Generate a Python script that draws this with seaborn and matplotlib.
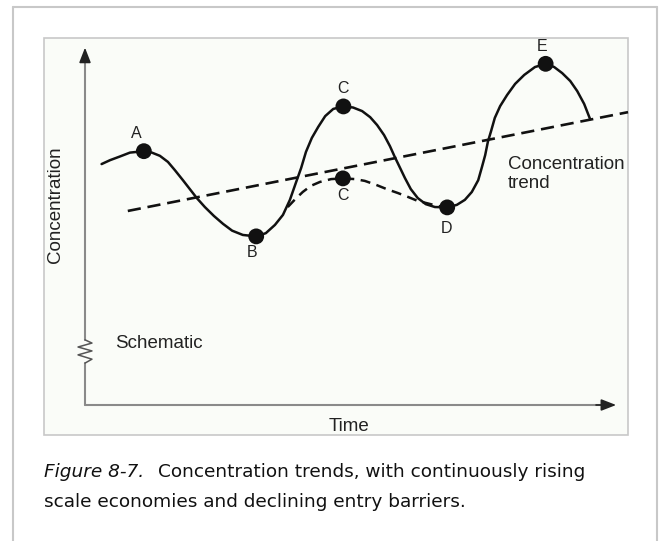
import matplotlib
matplotlib.use("Agg")
import matplotlib.pyplot as plt
import seaborn as sns
import pandas as pd
from matplotlib.patches import Rectangle
from matplotlib.lines import Line2D

# Valores (tempo 0-100, concentração 0-100, esquemático)
tempo_curva = [3.1, 4.7, 6.5, 8.4, 11.0, 12.5, 14.0, 15.5, 16.8, 18.3, 19.6,
               20.9, 22.4, 24.1, 25.8, 27.5, 29.5, 32.0, 33.8, 35.5, 37.0,
               38.3, 39.4, 40.4, 41.3, 42.4, 43.6, 44.9, 46.4, 48.3, 50.1,
               51.8, 53.3, 54.6, 55.9, 57.0, 57.9, 58.9, 59.8, 60.9, 62.2,
               63.7, 65.4, 67.7, 69.5, 71.0, 72.3, 73.5, 74.2, 74.8, 75.3,
               75.9, 76.6, 77.6, 78.9, 80.4, 82.1, 84.1, 86.1, 87.7, 89.2,
               90.7, 92.0, 93.3, 94.4]
conc_curva = [67.3, 68.4, 69.4, 70.5, 70.9, 70.5, 69.6, 67.9, 65.6, 62.8, 60.3,
              57.8, 55.3, 52.8, 50.6, 48.7, 47.5, 47.1, 48.0, 50.3, 53.1,
              57.3, 62.0, 66.2, 70.7, 74.6, 77.7, 80.7, 82.7, 83.4, 83.1,
              82.1, 80.4, 78.2, 75.4, 72.3, 69.3, 66.2, 63.4, 60.3, 57.8,
              56.1, 55.3, 55.2, 55.9, 57.3, 59.5, 62.8, 66.5, 69.8, 73.5,
              76.5, 80.2, 83.5, 86.6, 89.7, 92.2, 94.4, 95.3, 94.4, 92.7,
              90.5, 87.7, 84.1, 79.9]

# ramo tracejado alternativo (C inferior)
tempo_ramo = [37.9, 39.3, 40.7, 42.2, 43.9, 46.0, 48.2, 50.5, 52.3, 54.4,
              56.4, 58.5, 60.4, 62.2, 64.1, 65.9, 67.7]
conc_ramo = [55.3, 57.5, 59.5, 61.2, 62.3, 63.1, 63.3, 63.1, 62.6, 61.5,
             60.3, 59.2, 58.1, 57.0, 56.3, 55.6, 55.2]

# linha de tendência
tempo_tend = [8.0, 101.5]
conc_tend = [54.2, 81.8]

# pontos marcados
pontos = ["A", "B", "C", "C", "D", "E"]
tempo_pts = [11.0, 32.0, 48.3, 48.2, 67.7, 86.1]
conc_pts = [70.9, 47.1, 83.4, 63.3, 55.2, 95.3]
tempo_rot = [9.5, 31.2, 48.3, 48.3, 67.6, 85.5]
conc_rot = [75.7, 42.7, 88.5, 58.4, 49.4, 100.1]

df_curva = pd.DataFrame({"t": tempo_curva, "c": conc_curva})
df_ramo = pd.DataFrame({"t": tempo_ramo, "c": conc_ramo})
df_tend = pd.DataFrame({"t": tempo_tend, "c": conc_tend})
df_pts = pd.DataFrame({"t": tempo_pts, "c": conc_pts})

sns.set_style("white")
plt.rcParams["font.family"] = ["Liberation Sans", "DejaVu Sans"]
plt.rcParams["lines.solid_joinstyle"] = "round"
plt.rcParams["lines.dash_joinstyle"] = "round"

fig = plt.figure(figsize=(6.6, 5.41), dpi=100)
fig.patch.set_facecolor("white")

# moldura externa
cinza = "#c8c8c8"
fig.add_artist(Line2D([13/660, 13/660], [0, 1 - 7/541], transform=fig.transFigure, color=cinza, lw=1.5))
fig.add_artist(Line2D([657/660, 657/660], [0, 1 - 7/541], transform=fig.transFigure, color=cinza, lw=1.5))
fig.add_artist(Line2D([13/660, 657/660], [1 - 7/541, 1 - 7/541], transform=fig.transFigure, color=cinza, lw=1.5))

# caixa do gráfico
fig.add_artist(Rectangle((44/660, (541-435)/541), 584/660, 397/541, transform=fig.transFigure,
                         facecolor="#fafcf8", edgecolor=cinza, lw=1.2, zorder=0))

ax = fig.add_axes([85/660, (541-405)/541, 535/660, 358/541])
ax.set_xlim(0, 100)
ax.set_ylim(0, 100)
ax.axis("off")
ax.patch.set_alpha(0)

# eixos com setas
eixo = "#8a8a8a"
ax.plot([0, 0], [0, 11.7], color=eixo, lw=1.5, clip_on=False)
ax.plot([0, 0], [18.2, 97], color=eixo, lw=1.5, clip_on=False)
ax.plot([0, 1.3, -1.3, 1.3, -1.3, 1.3, 0],
        [18.2, 17.3, 16.2, 15.1, 14.0, 12.8, 11.7], color="#555555", lw=1.1, clip_on=False)
ax.plot([0, 97], [0, 0], color=eixo, lw=1.5, clip_on=False)
ax.annotate("", xy=(0, 100.6), xytext=(0, 95), xycoords="data",
            arrowprops=dict(arrowstyle="-|>,head_length=0.9,head_width=0.35", color="#222222", lw=1.2),
            annotation_clip=False)
ax.annotate("", xy=(99.8, 0), xytext=(95, 0), xycoords="data",
            arrowprops=dict(arrowstyle="-|>,head_length=0.9,head_width=0.35", color="#222222", lw=1.2),
            annotation_clip=False)

# curvas
sns.lineplot(data=df_tend, x="t", y="c", ax=ax, color="#111111", lw=1.9,
             estimator=None, sort=False)
ax.lines[-1].set_dashes([5, 2.6])
ax.lines[-1].set_clip_on(False)
sns.lineplot(data=df_ramo, x="t", y="c", ax=ax, color="#111111", lw=1.8,
             estimator=None, sort=False)
ax.lines[-1].set_dashes([4, 2.6])
sns.lineplot(data=df_curva, x="t", y="c", ax=ax, color="#111111", lw=1.8,
             estimator=None, sort=False)
sns.scatterplot(data=df_pts, x="t", y="c", ax=ax, color="#111111", s=130,
                edgecolor="none", zorder=5)

for nome, tx, cy in zip(pontos, tempo_rot, conc_rot):
    ax.text(tx, cy, nome, ha="center", va="center", fontsize=11.5, color="#222222", clip_on=False)

ax.text(79.1, 64.5, "Concentration\ntrend", ha="left", va="center", fontsize=13.5,
        color="#222222", linespacing=1.1)
ax.text(5.6, 17.3, "Schematic", ha="left", va="center", fontsize=13.5, color="#222222")
ax.text(-5.6, 55.9, "Concentration", ha="center", va="center", rotation=90,
        fontsize=13.5, color="#222222")
ax.text(49.3, -6.1, "Time", ha="center", va="center", fontsize=13.5, color="#222222")
ax.set_xlabel("")
ax.set_ylabel("")

# legenda da figura
fonte_leg = ["DejaVu Sans"]
t1 = fig.text(44/660, (541-471.7)/541, "Figure 8-7.", fontsize=13.3, style="italic",
              family=fonte_leg, color="#111111", va="center", ha="left")
r = fig.canvas.get_renderer()
bb = t1.get_window_extent(renderer=r)
fig.text((bb.x1 + 14) / 660, (541-471.7)/541, "Concentration trends, with continuously rising",
         fontsize=13.3, family=fonte_leg, color="#111111", va="center", ha="left")
fig.text(44/660, (541-501.7)/541, "scale economies and declining entry barriers.",
         fontsize=13.3, family=fonte_leg, color="#111111", va="center", ha="left")

plt.savefig("out.png", dpi=100)
